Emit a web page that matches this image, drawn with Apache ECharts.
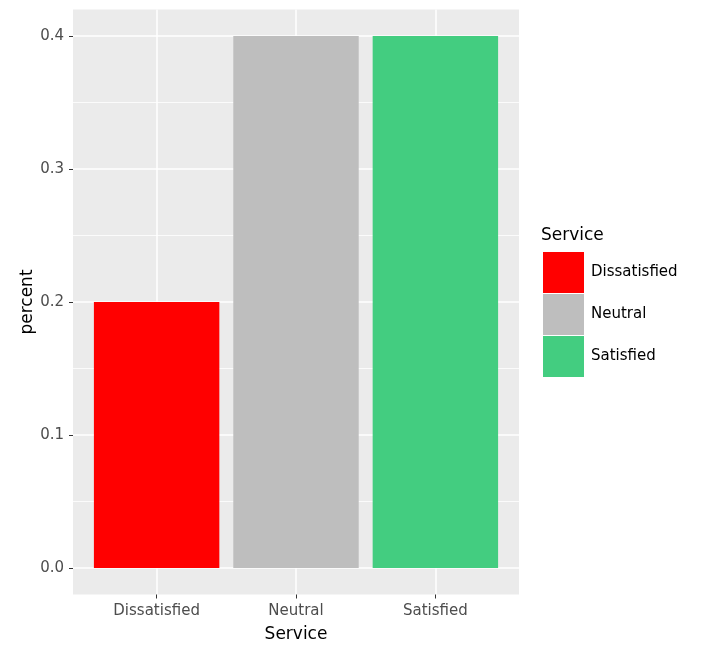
<!DOCTYPE html>
<html>
<head>
<meta charset="utf-8">
<script src="https://cdn.jsdelivr.net/npm/echarts@6/dist/echarts.min.js"></script>
<style>
html, body { margin: 0; padding: 0; background: #fff; }
#chart1 { width: 720px; height: 658px; }
</style>
</head>
<body>
<div id="chart1"></div>
<script>
var categories = ['Dissatisfied', 'Neutral', 'Satisfied'];
var percents = [0.2, 0.4, 0.4];
var barColors = ['#FF0000', '#BEBEBE', '#43CD80'];
var xPositions = [1, 2, 3];
var majorTicks = [0, 0.1, 0.2, 0.3, 0.4];
var minorTicks = [0.05, 0.15, 0.25, 0.35];

var fontName = 'DejaVu Sans';

function serviceChart(){
  var chartDom = document.getElementById('chart1');
  var myChart = echarts.init(chartDom);
  var option;

  var series = categories.map(function (name, i) {
    return {
      name: name,
      type: 'bar',
      data: [[xPositions[i], percents[i]]],
      barWidth: '90%',
      barGap: '-100%',
      itemStyle: { color: barColors[i] }
    };
  });

  option = {
    animation: false,
    textStyle: { fontFamily: fontName },
    title: {
      text: 'Service',
      left: 541,
      top: 227,
      padding: 0,
      textStyle: { fontFamily: fontName, fontSize: 17, fontWeight: 'normal', color: '#000' }
    },
    legend: {
      data: categories,
      orient: 'vertical',
      left: 543,
      top: 252,
      padding: 0,
      icon: 'rect',
      itemWidth: 41,
      itemHeight: 41,
      itemGap: 1,
      itemStyle: { borderWidth: 0 },
      selectedMode: false,
      textStyle: { fontFamily: fontName, fontSize: 15, color: '#000', padding: [0, 0, 0, 2] }
    },
    grid: {
      left: 73,
      right: 201,
      top: 9.5,
      bottom: 63.5,
      show: true,
      backgroundColor: '#EBEBEB',
      borderWidth: 0
    },
    xAxis: {
      type: 'value',
      min: 0.4,
      max: 3.6,
      name: 'Service',
      nameLocation: 'middle',
      nameGap: 32,
      nameTextStyle: { fontFamily: fontName, fontSize: 17, color: '#000' },
      axisLine: { show: false, onZero: false },
      axisTick: { show: true, customValues: xPositions, length: 4, lineStyle: { color: '#333' } },
      axisLabel: {
        customValues: xPositions,
        margin: 9,
        fontSize: 15,
        color: '#4D4D4D',
        formatter: function (v) { return categories[Math.round(v) - 1]; }
      },
      splitLine: { show: true, lineStyle: { color: '#fff', width: 1.5 } }
    },
    yAxis: [
      {
        type: 'value',
        min: -0.02,
        max: 0.42,
        name: 'percent',
        nameLocation: 'middle',
        nameGap: 37,
        nameMoveOverlap: false,
        nameTextStyle: { fontFamily: fontName, fontSize: 17, color: '#000' },
        axisLine: { show: false, onZero: false },
        axisTick: { show: true, customValues: majorTicks, length: 4, lineStyle: { color: '#333' } },
        axisLabel: {
          customValues: majorTicks,
          margin: 9,
          fontSize: 15,
          color: '#4D4D4D',
          formatter: function (v) { return v.toFixed(1); }
        },
        splitLine: { show: true, lineStyle: { color: '#fff', width: 1.5 } }
      },
      {
        type: 'value',
        min: -0.02,
        max: 0.42,
        position: 'left',
        axisLine: { show: false, onZero: false },
        axisTick: { show: false, customValues: minorTicks },
        axisLabel: { show: false, customValues: minorTicks },
        splitLine: { show: true, lineStyle: { color: '#fff', width: 0.8 } }
      }
    ],
    series: series
  };

  option && myChart.setOption(option);
}

serviceChart();
</script>
</body>
</html>
